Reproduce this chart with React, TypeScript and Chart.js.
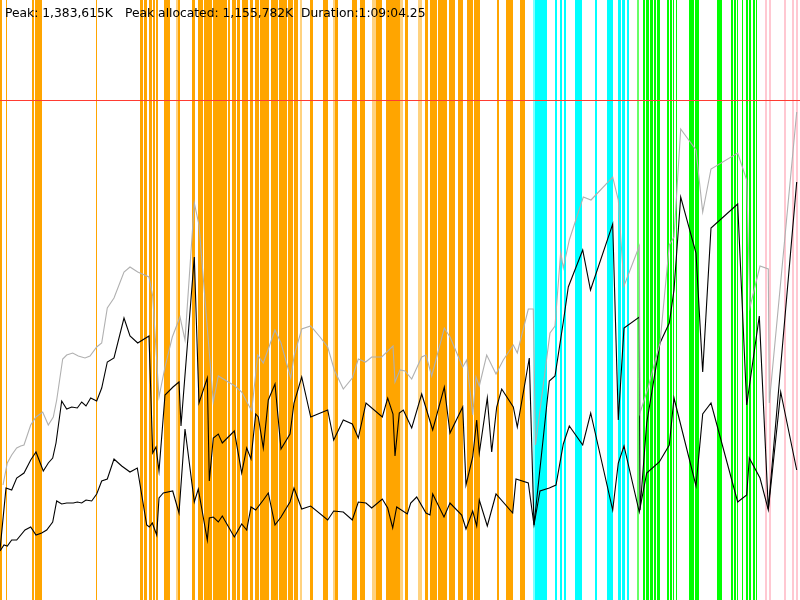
import React, { useEffect, useRef } from "react";
import { Chart, registerables } from "chart.js";

Chart.register(...registerables);

// Header texts
const peakText = "Peak: 1,383,615K";
const peakAllocText = "Peak allocated: 1,155,782K";
const durationText = "Duration:1:09:04.25";

// Peak marker level (chart units, 0..600)
const peakLevel = 499.5;

// Series: [time, memory] (chart units)
const heapSize: [number, number][] = [
  [3, 115], [7.3, 137], [11.7, 145], [16.7, 152], [20.7, 154], [24, 155], [30.7, 175], [36, 183],
  [42.7, 188], [48.3, 175], [53.3, 183], [56.7, 200], [62.7, 241], [66.7, 245], [72.7, 247], [78.3, 244],
  [85, 242], [90, 244], [96.7, 253], [101.7, 257], [107.3, 292], [114, 302], [124, 328], [130, 333],
  [137.7, 328], [149, 323], [152.7, 304], [159, 203], [165, 233], [172.3, 263], [180, 283], [185, 260],
  [194.3, 397], [199, 375], [213.3, 198], [218.3, 224], [228.3, 218], [235, 214], [241.7, 208], [251.7, 189],
  [257.7, 245], [263.3, 237], [275, 270], [281, 257], [290.7, 222], [294.3, 245], [301.7, 271], [310.7, 274],
  [320, 263], [327.7, 253], [334.3, 230], [343.3, 211], [352.3, 222], [358.3, 241], [365.7, 238], [371.7, 243],
  [381.7, 243], [393, 254], [395, 218], [400, 230], [405, 229], [411.7, 221], [421.7, 243], [426, 245],
  [431.7, 224], [444.3, 272], [450, 263], [462.7, 233], [466.7, 240], [472.7, 185], [476, 223], [479.3, 214],
  [486.7, 245], [496, 226], [503.3, 240], [513.3, 255], [517.3, 247], [528.3, 291], [533.3, 291], [535.5, 155],
  [550, 267], [555, 274], [560.7, 348], [563.3, 332], [569.3, 360], [583.3, 403], [591, 400], [612.7, 423],
  [618.3, 400], [624, 314], [639.3, 354], [640, 187], [648.3, 213], [660, 257], [669.3, 355], [674, 363],
  [680.7, 471], [696, 450], [702.7, 388], [711, 431], [737.7, 447], [746.7, 420], [750, 293], [760, 334],
  [768.3, 331], [769.3, 197], [796.7, 488],
];

const allocated: [number, number][] = [
  [0, 50], [6, 112], [11.7, 110], [16.7, 122], [24, 127], [30.7, 140], [36, 148], [43.3, 129],
  [48.3, 137], [52.7, 142], [56, 157], [61.7, 199], [66.7, 191], [71.7, 193], [77.3, 192], [81.7, 198],
  [86, 194], [90.7, 202], [96.7, 199], [101.7, 212], [107.3, 238], [114, 242], [124, 282], [130, 264],
  [137.7, 257], [149, 264], [152.7, 147], [156, 153], [159, 129], [165, 205], [173, 213], [179, 218],
  [181, 174], [194.3, 343], [199, 197], [207.3, 222], [209.3, 119], [213.3, 162], [218.3, 166], [222.3, 157],
  [234.3, 169], [241.7, 127], [246.7, 152], [251, 141], [255.7, 186], [258.3, 183], [263.3, 152], [268.3, 200],
  [275, 216], [281, 151], [290, 166], [294, 197], [301.7, 223], [310.7, 183], [327.7, 190], [333.7, 160],
  [343.3, 180], [352.3, 176], [358.3, 162], [366, 197], [382.3, 183], [387.7, 202], [393, 186], [395, 144],
  [399.3, 187], [403.3, 190], [411.7, 172], [421.7, 206], [432.7, 170], [444.3, 213], [450, 167], [462.7, 193],
  [466, 115], [472.7, 143], [476.7, 180], [479.3, 147], [487.3, 202], [491.7, 148], [496.7, 193], [501.7, 211],
  [513.3, 193], [517.3, 173], [529.3, 242], [534, 75], [549.3, 219], [555, 224], [563.3, 278], [568.3, 313],
  [582.7, 350], [590.5, 310], [612.7, 376], [618.3, 180], [624, 272], [639.3, 283], [640, 90], [646.7, 177],
  [660, 257], [669.3, 277], [674, 310], [680.7, 403], [696, 347], [702.7, 228], [711, 372], [737.7, 396],
  [746.7, 195], [759.3, 284], [768.3, 91], [796.7, 418],
];

const liveData: [number, number][] = [
  [0, 49], [4, 55], [7.3, 54], [11.7, 60], [16.7, 60], [25, 70], [30.7, 73], [36, 65],
  [41.7, 67], [46.7, 70], [52.7, 78], [56.7, 99], [61.7, 96], [66.7, 97], [73.3, 97], [77.3, 98],
  [81.7, 97], [86, 100], [91.7, 99], [96.7, 106], [101.7, 119], [107.3, 121], [114, 141], [121.7, 134],
  [130, 128], [137.3, 132], [146.7, 75], [149.3, 73], [152.3, 77], [156.7, 65], [159, 102], [163.3, 107],
  [172.7, 109], [179, 87], [185, 171], [194.3, 98], [198.3, 111], [207.3, 60], [209.3, 82], [213.3, 83],
  [218.3, 78], [222.3, 84], [234.3, 63], [241.7, 76], [246.7, 70], [251, 93], [255.7, 90], [263.3, 100],
  [268.3, 107], [275, 75], [281, 83], [290, 98], [294, 112], [301.7, 91], [310.7, 94], [327.7, 80],
  [333.7, 89], [343.3, 88], [352.3, 80], [358.3, 98], [366, 97], [371.7, 92], [382.3, 101], [387.7, 92],
  [392.7, 72], [396.7, 93], [407.3, 86], [410.7, 97], [416.7, 103], [426, 87], [430, 85], [432.7, 106],
  [444, 83], [450, 97], [461.7, 85], [466, 71], [472.7, 89], [476.7, 74], [479.3, 100], [487.3, 74],
  [496, 106], [512.7, 87], [516, 121], [528.3, 117], [534, 75], [540, 109], [549.3, 112], [556, 115],
  [563.3, 156], [569.3, 174], [582.7, 155], [590.7, 187], [612.7, 90], [618.3, 137], [624, 154], [639.3, 88],
  [646.7, 127], [659.3, 138], [669.3, 155], [674, 202], [696, 114], [702.7, 186], [711, 197], [737.7, 98],
  [746.7, 105], [749.3, 142], [760, 122], [768.3, 90], [780.7, 208], [796.7, 130],
];

// Event bands: [start, end, opacity]
const orangeEvents: [number, number, number][] = [
  [0, 2, 1], [5.5, 7, 1], [32, 34.3, 1], [35, 42, 1], [96, 97, 1],
  [140, 142.5, 1], [144, 146.5, 1], [149, 151.5, 1], [152.5, 155.3, 1], [156, 158.3, 1],
  [164, 170, 1], [176, 177.5, 0.5], [177.5, 180, 1], [191.5, 195, 1],
  [198, 203, 1], [203.5, 212, 1], [213, 219, 1], [219.5, 227, 1], [228, 230, 1], [231.5, 236, 1], [236.5, 240, 1],
  [241.5, 248, 1], [249.5, 253, 1], [254.5, 259, 1], [259.5, 269, 1], [271, 278, 1], [278.5, 287, 1],
  [288, 293, 1], [293.5, 297.5, 1], [299.5, 302, 0.5], [310, 313, 1], [323, 328, 1], [333, 335, 0.5], [335, 338, 1],
  [352, 357, 1], [360, 365, 1], [372, 376, 0.5], [376, 382, 1], [386, 400, 1],
  [400, 403, 0.5], [405, 408, 1], [418, 422, 0.5], [425, 428, 1], [430, 437, 1], [438, 447, 1],
  [449, 455, 1], [458, 463, 1], [467, 473, 1], [473.5, 480, 1], [497, 499, 1], [506, 513, 1], [520, 525, 1],
];
const cyanEvents: [number, number, number][] = [
  [533, 535, 0.5], [535, 547, 1], [555, 557, 1], [560, 562, 1], [564, 566, 1], [575, 582, 1],
  [595, 597, 1], [607, 613, 1], [618, 621, 1], [622, 625, 1], [627, 629, 1],
];
const greenEvents: [number, number, number][] = [
  [637, 639, 0.6], [643, 645, 1], [646, 649, 1], [650, 653, 1], [654, 656, 1], [657, 660, 1],
  [667, 669, 1], [670, 672, 1], [673, 674, 1], [676, 677, 1], [689, 694, 1], [695, 699, 1],
  [717, 722, 1], [731, 733, 1], [734, 736, 1], [737, 738, 1], [742, 743, 1], [746, 748, 1],
  [749, 751, 1], [753, 755, 1], [756, 757, 1],
];
const pinkEvents: [number, number, number][] = [
  [765, 767, 1], [769, 771, 1], [784, 786, 1], [792, 794, 1], [796, 798, 1],
];

const bandGroups: { color: string; events: [number, number, number][] }[] = [
  { color: "255,165,0", events: orangeEvents },
  { color: "0,255,255", events: cyanEvents },
  { color: "0,255,0", events: greenEvents },
  { color: "255,200,210", events: pinkEvents },
];

const bandsPlugin = {
  id: "eventBands",
  beforeDatasetsDraw(chart: any) {
    const { ctx, chartArea, scales } = chart;
    const xs = scales.x;
    ctx.save();
    for (const g of bandGroups) {
      for (const [s, e, a] of g.events) {
        const x0 = Math.round(xs.getPixelForValue(s));
        const x1 = Math.max(x0 + 1, Math.round(xs.getPixelForValue(e)));
        ctx.fillStyle = `rgba(${g.color},${a})`;
        ctx.fillRect(x0, chartArea.top, x1 - x0, chartArea.bottom - chartArea.top);
      }
    }
    ctx.restore();
  },
};

const headerPlugin = {
  id: "header",
  afterDraw(chart: any) {
    const { ctx } = chart;
    ctx.save();
    ctx.fillStyle = "#000";
    ctx.font = "12.3px 'DejaVu Sans', sans-serif";
    ctx.textBaseline = "alphabetic";
    ctx.fillText(peakText, 5, 17);
    ctx.fillText(peakAllocText, 125, 17);
    ctx.fillText(durationText, 301, 17);
    ctx.restore();
  },
};

const toPts = (arr: [number, number][]) => arr.map(([x, y]) => ({ x, y }));

export default function App() {
  const ref = useRef<HTMLCanvasElement | null>(null);
  useEffect(() => {
    document.body.style.margin = "0";
    if (!ref.current) return;
    const chart = new Chart(ref.current, {
      type: "line",
      data: {
        datasets: [
          {
            data: toPts(heapSize),
            borderColor: "#b0b0b0",
            borderWidth: 1.1,
            pointRadius: 0,
            tension: 0,
          },
          {
            data: toPts(allocated),
            borderColor: "#000000",
            borderWidth: 1.1,
            pointRadius: 0,
            tension: 0,
          },
          {
            data: toPts(liveData),
            borderColor: "#000000",
            borderWidth: 1.1,
            pointRadius: 0,
            tension: 0,
          },
          {
            data: [
              { x: 0, y: peakLevel },
              { x: 800, y: peakLevel },
            ],
            borderColor: "rgb(255,60,50)",
            borderWidth: 1,
            pointRadius: 0,
          },
        ],
      },
      options: {
        animation: false,
        responsive: false,
        layout: { padding: 0 },
        scales: {
          x: { type: "linear", min: 0, max: 800, display: false },
          y: { type: "linear", min: 0, max: 600, display: false },
        },
        plugins: {
          legend: { display: false },
          tooltip: { enabled: false },
        },
      },
      plugins: [bandsPlugin, headerPlugin],
    });
    return () => chart.destroy();
  }, []);
  return (
    <div style={{ width: 800, height: 600 }}>
      <canvas ref={ref} width={800} height={600} style={{ display: "block" }} />
    </div>
  );
}
